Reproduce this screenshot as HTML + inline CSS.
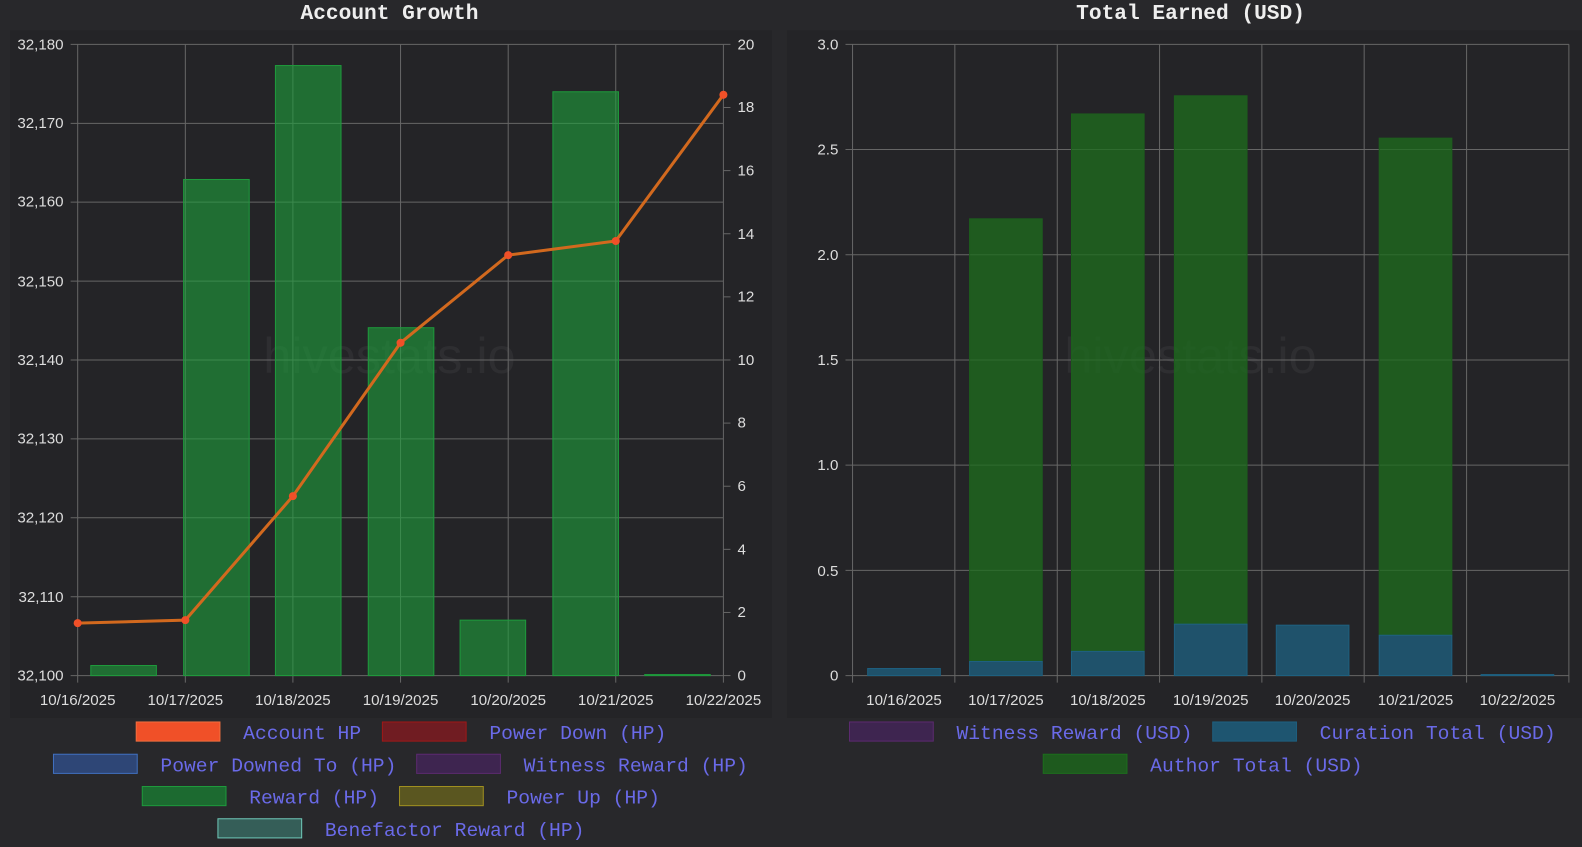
<!DOCTYPE html><html><head><style>
body{margin:0;background:#28282b;width:1582px;height:847px;overflow:hidden;font-family:"Liberation Sans",sans-serif}
svg{position:absolute;left:0;top:0}
</style></head><body>
<svg width="1582" height="847" viewBox="0 0 1568 840" preserveAspectRatio="none" xmlns="http://www.w3.org/2000/svg">
<rect x="10" y="30" width="755" height="682" fill="#242427"/>
<rect x="780" y="30" width="795" height="682" fill="#242427"/>
<g font-family="Liberation Mono,monospace" font-weight="bold" font-size="21" fill="#eee" text-anchor="middle">
<text x="386" y="19">Account Growth</text><text x="1180" y="19">Total Earned (USD)</text></g>
<g font-family="Liberation Sans,sans-serif" font-size="50" fill="#2e2e31" text-anchor="middle"><text x="386" y="370">hivestats.io</text><text x="1180" y="370">hivestats.io</text></g>
<g stroke="#666" stroke-width="1">
<line x1="70" y1="44" x2="717" y2="44"/><line x1="70" y1="122.3" x2="717" y2="122.3"/><line x1="70" y1="200.5" x2="717" y2="200.5"/><line x1="70" y1="278.8" x2="717" y2="278.8"/><line x1="70" y1="357" x2="717" y2="357"/><line x1="70" y1="435.3" x2="717" y2="435.3"/><line x1="70" y1="513.5" x2="717" y2="513.5"/><line x1="70" y1="591.8" x2="717" y2="591.8"/><line x1="70" y1="670" x2="717" y2="670"/>
<line x1="77" y1="44" x2="77" y2="677"/><line x1="183.7" y1="44" x2="183.7" y2="677"/><line x1="290.3" y1="44" x2="290.3" y2="677"/><line x1="397" y1="44" x2="397" y2="677"/><line x1="503.7" y1="44" x2="503.7" y2="677"/><line x1="610.3" y1="44" x2="610.3" y2="677"/><line x1="717" y1="44" x2="717" y2="677"/>
<line x1="717" y1="44" x2="724" y2="44"/><line x1="717" y1="106.6" x2="724" y2="106.6"/><line x1="717" y1="169.2" x2="724" y2="169.2"/><line x1="717" y1="231.8" x2="724" y2="231.8"/><line x1="717" y1="294.4" x2="724" y2="294.4"/><line x1="717" y1="357" x2="724" y2="357"/><line x1="717" y1="419.6" x2="724" y2="419.6"/><line x1="717" y1="482.2" x2="724" y2="482.2"/><line x1="717" y1="544.8" x2="724" y2="544.8"/><line x1="717" y1="607.4" x2="724" y2="607.4"/><line x1="717" y1="670" x2="724" y2="670"/>
</g>
<g fill="rgba(30,160,60,0.6)" stroke="#1e9a3c" stroke-width="1">
<rect x="90" y="660" width="65" height="10"/><rect x="182" y="178" width="65" height="492"/><rect x="273" y="65" width="65" height="605"/><rect x="365" y="325" width="65" height="345"/><rect x="456" y="615" width="65" height="55"/><rect x="548" y="91" width="65" height="579"/><rect x="639" y="669" width="65" height="1"/>
</g>
<polyline points="77,618 183.7,615 290.3,492 397,340 503.7,253 610.3,239 717,94" fill="none" stroke="#d2691e" stroke-width="3"/>
<g fill="#f05028"><circle cx="77" cy="618" r="4"/><circle cx="183.7" cy="615" r="4"/><circle cx="290.3" cy="492" r="4"/><circle cx="397" cy="340" r="4"/><circle cx="503.7" cy="253" r="4"/><circle cx="610.3" cy="239" r="4"/><circle cx="717" cy="94" r="4"/></g>
<g font-size="15" fill="#ddd" text-anchor="end">
<text x="63" y="49">32,180</text><text x="63" y="127">32,170</text><text x="63" y="205">32,160</text><text x="63" y="284">32,150</text><text x="63" y="362">32,140</text><text x="63" y="440">32,130</text><text x="63" y="518">32,120</text><text x="63" y="597">32,110</text><text x="63" y="675">32,100</text></g>
<g font-size="15" fill="#ddd">
<text x="731" y="49">20</text><text x="731" y="111">18</text><text x="731" y="174">16</text><text x="731" y="237">14</text><text x="731" y="299">12</text><text x="731" y="362">10</text><text x="731" y="424">8</text><text x="731" y="487">6</text><text x="731" y="550">4</text><text x="731" y="612">2</text><text x="731" y="675">0</text></g>
<g font-size="15" fill="#ddd" text-anchor="middle">
<text x="77" y="699">10/16/2025</text><text x="183.7" y="699">10/17/2025</text><text x="290.3" y="699">10/18/2025</text><text x="397" y="699">10/19/2025</text><text x="503.7" y="699">10/20/2025</text><text x="610.3" y="699">10/21/2025</text><text x="717" y="699">10/22/2025</text></g>
<g stroke="#666" stroke-width="1">
<line x1="838" y1="44" x2="1555" y2="44"/><line x1="838" y1="148.3" x2="1555" y2="148.3"/><line x1="838" y1="252.7" x2="1555" y2="252.7"/><line x1="838" y1="357" x2="1555" y2="357"/><line x1="838" y1="461.3" x2="1555" y2="461.3"/><line x1="838" y1="565.7" x2="1555" y2="565.7"/><line x1="838" y1="670" x2="1555" y2="670"/>
<line x1="845" y1="44" x2="845" y2="677"/><line x1="946.4" y1="44" x2="946.4" y2="677"/><line x1="1047.9" y1="44" x2="1047.9" y2="677"/><line x1="1149.3" y1="44" x2="1149.3" y2="677"/><line x1="1250.7" y1="44" x2="1250.7" y2="677"/><line x1="1352.1" y1="44" x2="1352.1" y2="677"/><line x1="1453.6" y1="44" x2="1453.6" y2="677"/><line x1="1555" y1="44" x2="1555" y2="677"/>
</g>
<g fill="rgba(30,110,30,0.75)" stroke="#1d5e1d">
<rect x="961" y="217" width="72" height="439"/><rect x="1062" y="113" width="72" height="533"/><rect x="1164" y="95" width="72" height="524"/><rect x="1367" y="137" width="72" height="493"/></g>
<g fill="rgba(30,90,120,0.85)" stroke="#1e6080">
<rect x="860" y="663" width="72" height="7"/><rect x="961" y="656" width="72" height="14"/><rect x="1062" y="646" width="72" height="24"/><rect x="1164" y="619" width="72" height="51"/><rect x="1265" y="620" width="72" height="50"/><rect x="1367" y="630" width="72" height="40"/><rect x="1468" y="669" width="72" height="1"/></g>
<g font-size="15" fill="#ddd" text-anchor="end">
<text x="831" y="49">3.0</text><text x="831" y="153">2.5</text><text x="831" y="258">2.0</text><text x="831" y="362">1.5</text><text x="831" y="466">1.0</text><text x="831" y="571">0.5</text><text x="831" y="675">0</text></g>
<g font-size="15" fill="#ddd" text-anchor="middle">
<text x="896" y="699">10/16/2025</text><text x="997" y="699">10/17/2025</text><text x="1098" y="699">10/18/2025</text><text x="1200" y="699">10/19/2025</text><text x="1301" y="699">10/20/2025</text><text x="1403" y="699">10/21/2025</text><text x="1504" y="699">10/22/2025</text></g>
<g font-family="Liberation Mono,monospace" font-size="19.5" fill="#6a6ae8">
<rect x="135" y="716" width="83" height="19" fill="#f05028" stroke="#f07040"/><text x="241" y="733">Account HP</text>
<rect x="379" y="716" width="83" height="19" fill="#701c22" stroke="#a01818"/><text x="485" y="733">Power Down (HP)</text>
<rect x="53" y="748" width="83" height="19" fill="#2e4676" stroke="#4070c0"/><text x="159" y="765">Power Downed To (HP)</text>
<rect x="413" y="748" width="83" height="19" fill="#3e2550" stroke="#5c2a70"/><text x="519" y="765">Witness Reward (HP)</text>
<rect x="141" y="780" width="83" height="19" fill="#1c6a30" stroke="#1e9a3c"/><text x="247" y="797">Reward (HP)</text>
<rect x="396" y="780" width="83" height="19" fill="#5a5620" stroke="#a09020"/><text x="502" y="797">Power Up (HP)</text>
<rect x="216" y="812" width="83" height="19" fill="#355e58" stroke="#70c8b8"/><text x="322" y="829">Benefactor Reward (HP)</text>
<rect x="842" y="716" width="83" height="19" fill="#3e2550" stroke="#5c2a70"/><text x="948" y="733">Witness Reward (USD)</text>
<rect x="1202" y="716" width="83" height="19" fill="#1e5570" stroke="#1e6080"/><text x="1308" y="733">Curation Total (USD)</text>
<rect x="1034" y="748" width="83" height="19" fill="#1e5a1e" stroke="#1d6e1d"/><text x="1140" y="765">Author Total (USD)</text>
</g>
</svg></body></html>
